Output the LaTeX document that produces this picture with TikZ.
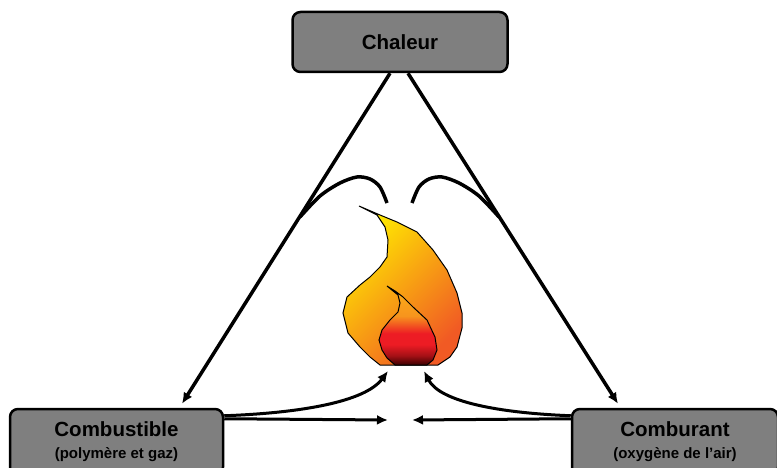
\documentclass[tikz,border=0pt]{standalone}
\usepackage{fontspec}
\setmainfont{Liberation Sans}
\usetikzlibrary{
	calc,
	arrows.meta,
	positioning
	}
\tikzset{font={\fontsize{20.5pt}{24}\selectfont\bfseries}}
\definecolor{gris}{HTML}{7F7F7F}
\definecolor{jaune}{HTML}{FFEC00}
\definecolor{orange1}{HTML}{FBB017}
\definecolor{orange2}{HTML}{F15A24}
\definecolor{orange3}{HTML}{F7941D}
\definecolor{rouge}{HTML}{ED1C24}
\definecolor{sombre}{HTML}{3A0000}
\pgfdeclareverticalshading{flamme-int}{100bp}{color(0bp)=(sombre); color(25bp)=(sombre); color(31bp)=(rouge!60!sombre);
	color(38bp)=(rouge); color(45bp)=(rouge); color(56bp)=(orange3); color(75bp)=(orange1); color(100bp)=(orange1)}
\tikzstyle{boite-std}=[draw,fill=gris,line width=2.5pt,rounded corners=8pt,align=center,inner sep=0pt]
\tikzstyle{fleche-std}=[-{Latex[length=11pt,width=10pt]},line width=3pt]
\tikzstyle{trait-std}=[line width=3.5pt]
\newcommand{\sous}[1]{{\fontsize{15pt}{18}\selectfont #1}}

\begin{document}
\begin{tikzpicture}[x=1pt,y=-1pt]
            \useasboundingbox (0,0) rectangle (777,468);
            \node[boite-std, minimum width=215pt, minimum height=60pt] (chaleur) at (400,42) {Chaleur};
            \node[boite-std, minimum width=213pt, minimum height=66pt] (combustible) at (116.5,442) {Combustible\\[-2pt]\sous{(polymère et gaz)}};
            \node[boite-std, minimum width=206pt, minimum height=66pt] (comburant) at (675,442) {Comburant\\[-2pt]\sous{(oxygène de l’air)}};
            %
            \coordinate (flamme-g) at (388,371);
            \coordinate (flamme-d) at (424,371);
            \coordinate (centre-g) at (388,420);
            \coordinate (centre-d) at (412,420);

            % la flamme
            \draw[line width=1pt, top color=jaune, middle color=orange1, bottom color=orange2, shading angle=45]
               plot coordinates {(359,206) (380,215) (397,222) (417,232) (433,250) (447,270) (457,293) (462,313)
               (462,328) (457,347) (450,357) (438,365) (380,365) (370,357) (360,347) (348,333) (343,313) (347,297)
               (360,285) (370,277) (380,267) (387,257) (388,240) (385,227) (377,215)} -- cycle;
            \draw[line width=1pt, shading=flamme-int]
               plot coordinates {(387,286) (395,291) (403,297) (413,307) (427,320) (435,337) (437,350) (433,360)
               (427,365) (395,365) (387,358) (382,350) (379,340) (382,330) (390,320) (398,312) (400,303) (398,295)} -- cycle;

            % le triangle
            \draw[fleche-std, line width=3.5pt] ([xshift=-10pt]chaleur.south) -- ([xshift=65.5pt,yshift=4pt]combustible.north);
            \draw[fleche-std, line width=3.5pt] ([xshift=8pt]chaleur.south) -- ([xshift=-57pt,yshift=4pt]comburant.north);

            \draw[trait-std] plot[smooth] coordinates {(300,217) (320,196) (340,183) (357,177) (370,179) (380,187) (387,203)};
            \draw[trait-std] plot[smooth] coordinates {(499,217) (479,196) (459,183) (442,177) (429,179) (419,187) (412,203)};

            \draw[fleche-std] ($(combustible.north east)+(0,11)$) -- (centre-g);
            \draw[fleche-std] ($(combustible.north east)+(0,8)$) .. controls (300,413) and (365,402) .. (flamme-g);
            \draw[fleche-std] ($(comburant.north west)+(0,11)$) -- (centre-d);
            \draw[fleche-std] ($(comburant.north west)+(0,8)$) .. controls (500,413) and (440,402) .. (flamme-d);
        \end{tikzpicture}
\end{document}
